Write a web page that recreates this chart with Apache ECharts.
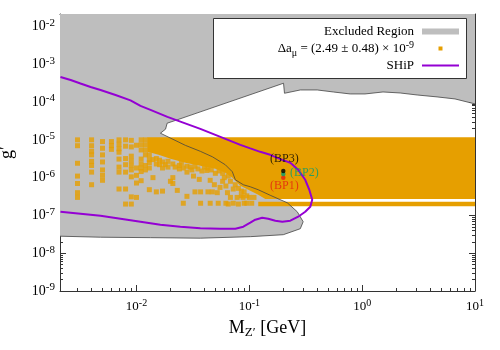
<!DOCTYPE html>
<html><head><meta charset="utf-8">
<script src="https://cdn.jsdelivr.net/npm/echarts@6/dist/echarts.min.js"></script>
<style>html,body{margin:0;padding:0;background:#fff}#c{width:500px;height:350px}</style>
</head><body><div id="c"></div>
<script>
// ---------- axis ranges & ticks ----------
const X_MIN = 0.0021, X_MAX = 10, Y_MIN = 1e-9, Y_MAX = 0.0214;
const xMajorTicks = [0.01, 0.1, 1, 10];
const xDecades = [0.001, 0.01, 0.1, 1];
const yMajorTicks = [1e-9, 1e-8, 1e-7, 1e-6, 1e-5, 1e-4, 1e-3, 1e-2];

// ---------- excluded region boundary [M_Z' (GeV), g'] ----------
const excludedBoundary = [
  [10, 8.93e-5], [6.65, 1.21e-4], [4.61, 1.37e-4], [3.07, 1.54e-4], [2.17, 1.74e-4],
  [1.53, 1.85e-4], [1.06, 1.64e-4], [0.783, 1.64e-4], [0.554, 1.85e-4], [0.40, 2.09e-4],
  [0.283, 2.09e-4], [0.205, 1.71e-4], [0.201, 3.15e-4], [0.0229, 3.38e-5], [0.0187, 2.76e-5],
  [0.0181, 1.92e-5], [0.0163, 1.5e-5], [0.0271, 7.16e-6], [0.0368, 4.97e-6], [0.0471, 3.56e-6],
  [0.0613, 2.19e-6], [0.0707, 1.43e-6], [0.0752, 8.77e-7], [0.0885, 6.48e-7], [0.102, 5.73e-7],
  [0.120, 4.78e-7], [0.153, 3.42e-7], [0.217, 2.16e-7], [0.266, 1.25e-7], [0.300, 6.82e-8],
  [0.283, 4.45e-8], [0.200, 3.09e-8], [0.102, 2.74e-8], [0.0368, 2.5e-8], [0.0133, 2.58e-8],
  [0.0048, 2.65e-8], [0.0021, 2.82e-8]
];

// ---------- Delta a_mu allowed points ----------
const dmBandSolid = [
  [0.0125, 1.18e-5], [10, 1.18e-5], [10, 2.71e-7], [0.1385, 2.71e-7], [0.120, 3.52e-7],
  [0.102, 4.49e-7], [0.0833, 6.09e-7], [0.0707, 9.91e-7], [0.0613, 1.34e-6], [0.05, 1.71e-6],
  [0.0368, 2.06e-6], [0.0271, 2.47e-6], [0.02, 3.15e-6], [0.0157, 4.02e-6], [0.0125, 4.82e-6]
];
const dmBandLowStrip = [[0.12, 2.31e-7], [10, 2.31e-7], [10, 1.75e-7], [0.12, 1.75e-7]];
const dmPoints = [
  [0.003, 1e-5], [0.003, 7e-6], [0.003, 2.4e-6], [0.003, 1.1e-6], [0.003, 7e-7], [0.003, 4e-7], [0.003, 3e-7],
  [0.004, 1e-5], [0.004, 7e-6], [0.004, 5e-6], [0.004, 4e-6], [0.004, 2.7e-6], [0.004, 2.1e-6], [0.004, 1.4e-6], [0.004, 6.5e-7],
  [0.005, 9e-6], [0.005, 6e-6], [0.005, 4e-6], [0.005, 2.6e-6], [0.005, 1.6e-6], [0.005, 1.15e-6], [0.005, 8.5e-7],
  [0.006, 9e-6], [0.006, 7e-6], [0.006, 5.6e-6],
  [0.007, 1e-5], [0.007, 7.6e-6], [0.007, 5.8e-6], [0.007, 4.7e-6], [0.007, 3.1e-6], [0.007, 1.9e-6], [0.007, 1.4e-6], [0.007, 5e-7],
  [0.008, 1e-5], [0.008, 6.8e-6], [0.008, 3.2e-6], [0.008, 2.2e-6], [0.008, 1.4e-6], [0.008, 5e-7], [0.008, 2e-7],
  [0.009, 9.7e-6], [0.009, 6.5e-6], [0.009, 3.7e-6], [0.009, 2.8e-6], [0.009, 2.1e-6], [0.009, 1.6e-6], [0.009, 1.05e-6], [0.009, 3.1e-7], [0.009, 2e-7],
  [0.010, 7.2e-6], [0.010, 1.8e-6], [0.010, 1.15e-6], [0.010, 7.2e-7], [0.010, 3e-7],
  [0.011, 1e-5], [0.011, 7.4e-6], [0.011, 5.4e-6], [0.011, 3.1e-6], [0.011, 2.3e-6], [0.011, 1.8e-6], [0.011, 1.45e-6], [0.011, 8.3e-7],
  [0.012, 1e-5], [0.012, 7.4e-6], [0.012, 5.4e-6], [0.012, 4e-6], [0.012, 2.1e-6], [0.012, 1.6e-6],
  [0.013, 4e-6], [0.013, 3e-6], [0.013, 2.5e-6], [0.013, 1.8e-6], [0.013, 4.8e-7],
  [0.014, 3e-6], [0.014, 1e-6], [0.015, 3.2e-6], [0.015, 2.3e-6], [0.015, 4.2e-7],
  [0.016, 2.9e-6], [0.017, 2.6e-6], [0.017, 1.8e-6], [0.017, 4.4e-7], [0.019, 2.7e-6],
  [0.020, 8e-7], [0.021, 2.3e-6], [0.021, 1e-6], [0.021, 7e-7], [0.023, 4.6e-7],
  [0.024, 2.1e-6], [0.024, 1.7e-6], [0.026, 2.1e-7], [0.028, 2e-6], [0.028, 1.4e-6], [0.028, 3.2e-7],
  [0.030, 1.9e-6], [0.033, 4.2e-7], [0.035, 1.7e-6], [0.037, 4.2e-7], [0.037, 2.1e-7],
  [0.040, 1.9e-6], [0.043, 1.8e-6], [0.043, 4.2e-7], [0.045, 2.1e-7], [0.047, 4.2e-7],
  [0.049, 6.5e-7], [0.052, 4e-7], [0.053, 2.1e-7], [0.058, 8e-7], [0.058, 1.3e-6],
  [0.062, 2.1e-7], [0.064, 4e-7], [0.065, 1.1e-6], [0.065, 2e-7], [0.068, 3e-7],
  [0.072, 5e-7], [0.072, 2.1e-7], [0.078, 3e-7], [0.080, 2e-7], [0.085, 3.3e-7], [0.085, 4.4e-7],
  [0.088, 3e-7], [0.090, 2.1e-7], [0.095, 2.1e-7], [0.095, 3.3e-7], [0.100, 3e-7],
  [0.105, 2.1e-7], [0.110, 3e-7],
  [0.016, 2.2e-6], [0.018, 2.2e-6], [0.019, 1.9e-6], [0.022, 1.9e-6], [0.025, 2.4e-6], [0.026, 1.8e-6],
  [0.031, 1.6e-6], [0.033, 2e-6], [0.038, 1.5e-6], [0.042, 1.55e-6], [0.046, 1.6e-6], [0.05, 1.3e-6],
  [0.054, 1.5e-6], [0.06, 1e-6], [0.068, 8e-7], [0.075, 6.5e-7], [0.08, 5.2e-7], [0.09, 4.2e-7],
  [0.032, 1.1e-6], [0.036, 9e-7], [0.045, 8.5e-7], [0.055, 5.5e-7], [0.062, 6e-7]
];

// ---------- SHiP sensitivity ----------
const shipCurve = [
  [0.00212, 4.62e-4], [0.00261, 3.85e-4], [0.00319, 3.11e-4], [0.00392, 2.51e-4], [0.0048, 2.09e-4],
  [0.00652, 1.54e-4], [0.00885, 1.11e-4], [0.01085, 7.91e-5], [0.0133, 6.2e-5], [0.0188, 4.05e-5],
  [0.0245, 3.04e-5], [0.0368, 1.95e-5], [0.0554, 1.2e-5], [0.0833, 7.38e-6], [0.102, 5.96e-6],
  [0.125, 4.82e-6], [0.153, 4.02e-6], [0.196, 2.96e-6], [0.231, 2.47e-6], [0.271, 1.61e-6],
  [0.313, 8.77e-7], [0.340, 4.78e-7], [0.361, 2.6e-7], [0.347, 1.7e-7], [0.313, 1.25e-7],
  [0.271, 9.24e-8], [0.231, 7.24e-8], [0.196, 6.82e-8], [0.170, 7.24e-8], [0.147, 8.18e-8],
  [0.130, 8.7e-8], [0.113, 7.7e-8], [0.102, 6.41e-8], [0.0885, 5.03e-8], [0.0752, 4.45e-8],
  [0.0554, 4.45e-8], [0.0368, 4.59e-8], [0.0245, 5.03e-8], [0.0163, 5.68e-8], [0.01085, 6.82e-8],
  [0.00722, 8.18e-8], [0.0048, 9.82e-8], [0.00319, 1.11e-7], [0.00212, 1.25e-7]
];

// ---------- benchmark points ----------
const bpNames = ['BP1', 'BP2', 'BP3'];
const bpMass = [0.2, 0.2, 0.2];
const bpCoupling = [1.0e-6, 1.25e-6, 1.5e-6];

// ---------- styles ----------
const SERIF = '"Liberation Serif","DejaVu Serif",serif';
const AXIS_COLOR = '#333';
const GREY = '#bebebe', ORANGE = '#e69f00', PURPLE = '#9400d3';
const bpColors = ['#e51e10', '#009e73', '#000000'];
const bpLabelOffsets = [[1, 8], [21, -1], [1, -12]];

const xMinorTicks = [];
xDecades.forEach(d => { for (let k = 2; k <= 9; k++) { const v = +(k * d).toPrecision(3); if (v >= X_MIN && v <= X_MAX) xMinorTicks.push(v); } });
const yMinorTicks = [];
yMajorTicks.forEach(d => { for (let k = 2; k <= 9; k++) { const v = +(k * d).toPrecision(3); if (v <= Y_MAX) yMinorTicks.push(v); } });

function expLabel(v) { return '{b|10}{s|' + Math.round(Math.log10(v)) + '}'; }

function xAx(pos, ticks, len, showLine, label, extra) {
  return Object.assign({
    type: 'log', logBase: 10, min: X_MIN, max: X_MAX, position: pos, gridIndex: 0,
    axisLine: { show: showLine, onZero: false, lineStyle: { color: AXIS_COLOR, width: 1 } },
    axisTick: { show: true, inside: true, length: len, customValues: ticks, lineStyle: { color: AXIS_COLOR, width: 1 } },
    axisLabel: label || { show: false },
    splitLine: { show: false }, minorTick: { show: false }, minorSplitLine: { show: false }
  }, extra || {});
}
function yAx(pos, ticks, len, showLine, label, extra) {
  return Object.assign({
    type: 'log', logBase: 10, min: Y_MIN, max: Y_MAX, position: pos, gridIndex: 0,
    axisLine: { show: showLine, onZero: false, lineStyle: { color: AXIS_COLOR, width: 1 } },
    axisTick: { show: true, inside: true, length: len, customValues: ticks, lineStyle: { color: AXIS_COLOR, width: 1 } },
    axisLabel: label || { show: false },
    splitLine: { show: false }, minorTick: { show: false }, minorSplitLine: { show: false }
  }, extra || {});
}

function polySeries(name, pts, color, z) {
  return {
    name: name, type: 'custom', coordinateSystem: 'cartesian2d', xAxisIndex: 0, yAxisIndex: 0,
    z: z, silent: true, clip: true,
    data: [pts[0]],
    renderItem: function (params, api) {
      return { type: 'polygon', shape: { points: pts.map(p => api.coord(p)) }, style: { fill: color } };
    }
  };
}

const excludedPolygon = [[X_MIN, Y_MAX], [X_MAX, Y_MAX]].concat(excludedBoundary);

const chart = echarts.init(document.getElementById('c'));
chart.setOption({
  animation: false,
  backgroundColor: '#fff',
  grid: { left: 60, right: 25, top: 14, bottom: 59, containLabel: false, outerBoundsMode: 'none' },
  xAxis: [
    xAx('bottom', xMajorTicks, 6, true, {
      show: true, customValues: xMajorTicks, margin: 7, formatter: expLabel,
      rich: {
        b: { fontSize: 13, lineHeight: 18, fontFamily: SERIF, color: '#000' },
        s: { fontSize: 10, lineHeight: 10, verticalAlign: 'top', fontFamily: SERIF, color: '#000' }
      }
    }, {
      name: '{m|M}{z|Z′}{m| [GeV]}', nameLocation: 'middle', nameGap: 26,
      nameTextStyle: { rich: {
        m: { fontSize: 18, lineHeight: 22, fontFamily: SERIF, color: '#000' },
        z: { fontSize: 13, lineHeight: 10, verticalAlign: 'bottom', fontFamily: SERIF, color: '#000' }
      } }
    }),
    xAx('bottom', xMinorTicks, 3, false),
    xAx('top', xMajorTicks, 6, true),
    xAx('top', xMinorTicks, 3, false)
  ],
  yAxis: [
    yAx('left', yMajorTicks, 6, true, {
      show: true, customValues: yMajorTicks, margin: 5, formatter: expLabel,
      rich: {
        b: { fontSize: 14, lineHeight: 18, fontFamily: SERIF, color: '#000' },
        s: { fontSize: 11, lineHeight: 10, verticalAlign: 'top', fontFamily: SERIF, color: '#000' }
      }
    }, {
      name: 'g′', nameLocation: 'middle', nameGap: 44,
      nameTextStyle: { fontSize: 18, fontFamily: SERIF, color: '#000' }
    }),
    yAx('left', yMinorTicks, 3, false),
    yAx('right', yMajorTicks, 6, true),
    yAx('right', yMinorTicks, 3, false)
  ],
  series: [
    polySeries('Excluded Region', excludedPolygon, GREY, 1),
    polySeries('band', dmBandSolid, ORANGE, 2),
    polySeries('strip', dmBandLowStrip, ORANGE, 2),
    {
      name: 'Δa_μ', type: 'scatter', xAxisIndex: 0, yAxisIndex: 0, z: 3, clip: true,
      symbol: 'rect', symbolSize: 5, itemStyle: { color: ORANGE }, data: dmPoints, silent: true
    },
    {
      name: 'boundary', type: 'line', xAxisIndex: 0, yAxisIndex: 0, z: 4, showSymbol: false,
      lineStyle: { color: '#444', width: 0.8 }, data: excludedBoundary, silent: true
    },
    {
      name: 'SHiP', type: 'line', xAxisIndex: 0, yAxisIndex: 0, z: 5, showSymbol: false,
      lineStyle: { color: PURPLE, width: 2 }, data: shipCurve, silent: true
    },
    {
      name: 'BP', type: 'scatter', xAxisIndex: 0, yAxisIndex: 0, z: 6, symbol: 'circle', symbolSize: 4.5,
      data: bpNames.map((n, i) => ({
        name: n, value: [bpMass[i], bpCoupling[i]], itemStyle: { color: bpColors[i] },
        label: { show: true, formatter: '(' + n + ')', position: 'inside', offset: bpLabelOffsets[i],
          color: bpColors[i], fontSize: 12, fontFamily: SERIF }
      }))
    }
  ],
  graphic: [
    { type: 'rect', z: 100, shape: { x: 213.5, y: 18.5, width: 253, height: 60 },
      style: { fill: '#fff', stroke: '#333', lineWidth: 1 } },
    { type: 'text', z: 101, style: { text: 'Excluded Region', x: 414, y: 31.5, align: 'right', verticalAlign: 'middle',
      fontSize: 13, fontFamily: SERIF, fill: '#000' } },
    { type: 'rect', z: 101, shape: { x: 422, y: 28.5, width: 37, height: 6 }, style: { fill: GREY } },
    { type: 'text', z: 101, style: {
      text: '{a|Δa}{u|μ}{a| = (2.49 ± 0.48) × 10}{p|-9}', x: 414, y: 49, align: 'right', verticalAlign: 'middle',
      rich: {
        a: { fontSize: 13, lineHeight: 18, fontFamily: SERIF, fill: '#000' },
        u: { fontSize: 10, lineHeight: 8, verticalAlign: 'bottom', fontFamily: SERIF, fill: '#000' },
        p: { fontSize: 10, lineHeight: 8, verticalAlign: 'top', fontFamily: SERIF, fill: '#000' }
      } } },
    { type: 'rect', z: 101, shape: { x: 438.5, y: 46.5, width: 4, height: 4 }, style: { fill: ORANGE } },
    { type: 'text', z: 101, style: { text: 'SHiP', x: 414, y: 66, align: 'right', verticalAlign: 'middle',
      fontSize: 13, fontFamily: SERIF, fill: '#000' } },
    { type: 'line', z: 101, shape: { x1: 422, y1: 65.5, x2: 459, y2: 65.5 }, style: { stroke: PURPLE, lineWidth: 2 } }
  ]
});
</script></body></html>
